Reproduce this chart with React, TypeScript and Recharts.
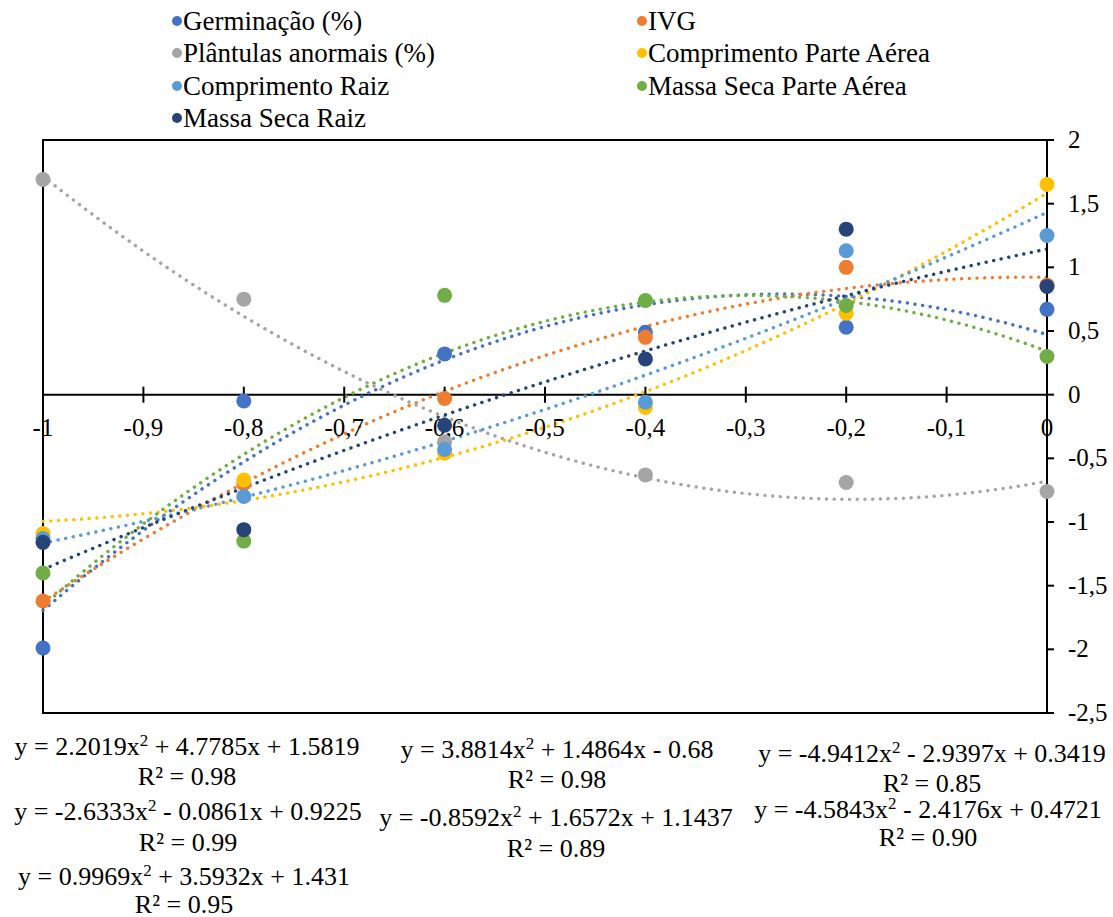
import { ComposedChart, Scatter, Line, XAxis, YAxis, ReferenceArea, ReferenceLine } from "recharts"

// osmotic potential levels (x)
const xLevels = [-1, -0.8, -0.6, -0.4, -0.2, 0]

const germinacao = [-1.99, -0.05, 0.32, 0.49, 0.53, 0.67]
const ivg = [-1.62, -0.7, -0.03, 0.45, 1.0, 0.86]
const plantulasAnormais = [1.69, 0.75, -0.37, -0.63, -0.69, -0.76]
const comprimentoParteAerea = [-1.09, -0.67, -0.46, -0.1, 0.64, 1.65]
const comprimentoRaiz = [-1.13, -0.8, -0.43, -0.06, 1.13, 1.25]
const massaSecaParteAerea = [-1.4, -1.15, 0.78, 0.74, 0.7, 0.3]
const massaSecaRaiz = [-1.16, -1.06, -0.24, 0.28, 1.3, 0.85]

const seriesNames = [
  "Germinação (%)",
  "IVG",
  "Plântulas anormais (%)",
  "Comprimento Parte Aérea",
  "Comprimento Raiz",
  "Massa Seca Parte Aérea",
  "Massa Seca Raiz",
]
const seriesValues = [
  germinacao,
  ivg,
  plantulasAnormais,
  comprimentoParteAerea,
  comprimentoRaiz,
  massaSecaParteAerea,
  massaSecaRaiz,
]
const seriesColors = ["#4472C4", "#ED7D31", "#A5A5A5", "#FFC000", "#5B9BD5", "#70AD47", "#264478"]

// polynomial trendlines y = a x² + b x + c, as printed on the chart
const trendCoefs = [
  [-4.5843, -2.4176, 0.4721],
  [-2.6333, -0.0861, 0.9225],
  [3.8814, 1.4864, -0.68],
  [2.2019, 4.7785, 1.5819],
  [0.9969, 3.5932, 1.431],
  [-4.9412, -2.9397, 0.3419],
  [-0.8592, 1.6572, 1.1437],
]
const rSquared = [0.9, 0.99, 0.98, 0.98, 0.95, 0.85, 0.89]

const xTicks = [-1, -0.9, -0.8, -0.7, -0.6, -0.5, -0.4, -0.3, -0.2, -0.1, 0]
const yTicks = [-2.5, -2, -1.5, -1, -0.5, 0, 0.5, 1, 1.5, 2]

// where each equation label sits (center x, y of equation line, y of R² line)
const labelPos = [
  [928, 810, 838],
  [188, 812, 843],
  [557, 750, 780],
  [187, 747, 777],
  [184, 877, 905],
  [932, 754, 784],
  [556, 818, 849],
]

const fmt = (v: number) => String(Math.round(v * 10) / 10).replace(".", ",")

const trendSamples = Array.from({ length: 51 }, (_, i) => -1 + i * 0.02)

const scatterData = seriesValues.map((vals) => vals.map((y, i) => ({ x: xLevels[i], y })))
const trendData = trendCoefs.map(([a, b, c]) =>
  trendSamples.map((x) => ({ x, y: a * x * x + b * x + c }))
)
const tickData = xTicks.map((x) => ({ x, y: 0 }))

const sign = (v: number) => (v < 0 ? "-" : "+")

const textLine = (cx: number, cy: number) => ({
  position: "absolute" as const,
  left: cx - 250,
  width: 500,
  top: cy - 12,
  height: 24,
  textAlign: "center" as const,
  fontSize: 26,
  lineHeight: "24px",
  whiteSpace: "nowrap" as const,
  color: "#000",
})

const YTick = (p: any) => (
  <text x={p.x} y={p.y} dy={8} textAnchor="start" fontSize={25} fill="#000">
    {fmt(p.payload.value)}
  </text>
)

const App = () => {
  return (
    <div style={{ position: "absolute", left: 0, top: 0, width: 1113, height: 917, overflow: "hidden" }}>
      <ComposedChart width={1113} height={917} margin={{ top: 140, right: 0, bottom: 204, left: 43 }}>
        <XAxis type="number" dataKey="x" domain={[-1, 0]} hide />
        <YAxis
          type="number"
          dataKey="y"
          orientation="right"
          domain={[-2.5, 2]}
          ticks={yTicks}
          interval={0}
          width={66}
          axisLine={{ stroke: "#000", strokeWidth: 2 }}
          tickLine={{ stroke: "#000", strokeWidth: 2 }}
          tickSize={7}
          tickMargin={14}
          tick={<YTick />}
        />
        <ReferenceArea x1={-1} x2={0} y1={-2.5} y2={2} fill="none" fillOpacity={0} stroke="#000" strokeWidth={2} />
        <ReferenceLine y={0} stroke="#000" strokeWidth={2} />
        <Scatter
          data={tickData}
          isAnimationActive={false}
          shape={(p: any) => (
            <g>
              <line x1={p.cx} x2={p.cx} y1={p.cy - 8} y2={p.cy + 8} stroke="#000" strokeWidth={2} />
              <text x={p.cx} y={p.cy + 41} textAnchor="middle" fontSize={25} fill="#000">
                {fmt(p.payload.x)}
              </text>
            </g>
          )}
        />
        {scatterData.map((d, i) => (
          <Scatter
            key={seriesNames[i]}
            name={seriesNames[i]}
            data={d}
            isAnimationActive={false}
            shape={(p: any) => <circle cx={p.cx} cy={p.cy} r={7.5} fill={seriesColors[i]} />}
          />
        ))}
        {trendData.map((d, i) => (
          <Line
            key={"trend" + i}
            data={d}
            dataKey="y"
            type="linear"
            stroke={seriesColors[i]}
            strokeWidth={3.4}
            strokeDasharray="0.1 7.6"
            strokeLinecap="round"
            dot={false}
            activeDot={false}
            isAnimationActive={false}
          />
        ))}
      </ComposedChart>

      {/* legend */}
      {seriesNames.map((name, i) => {
        const col = i % 2
        const row = Math.floor(i / 2)
        const mx = col === 0 ? 177 : 642
        const my = [21, 53, 86, 118][row]
        return (
          <div key={name} style={{ position: "absolute", left: mx - 5, top: my - 16, height: 32, display: "flex", alignItems: "center", whiteSpace: "nowrap" }}>
            <span style={{ width: 10, height: 10, borderRadius: 5, background: seriesColors[i], marginRight: 1 }} />
            <span style={{ fontSize: 27, color: "#000", lineHeight: "32px" }}>{name}</span>
          </div>
        )
      })}

      {/* trendline equations */}
      {trendCoefs.map(([a, b, c], i) => {
        const [cx, ey, ry] = labelPos[i]
        return (
          <div key={"eq" + i}>
            <div style={textLine(cx, ey)}>
              {"y = " + a + "x"}
              <span style={{ fontSize: 17, position: "relative", top: -9 }}>2</span>
              {" " + sign(b) + " " + Math.abs(b) + "x " + sign(c) + " " + Math.abs(c)}
            </div>
            <div style={textLine(cx, ry)}>{"R² = " + rSquared[i].toFixed(2)}</div>
          </div>
        )
      })}
    </div>
  )
}

export default App
